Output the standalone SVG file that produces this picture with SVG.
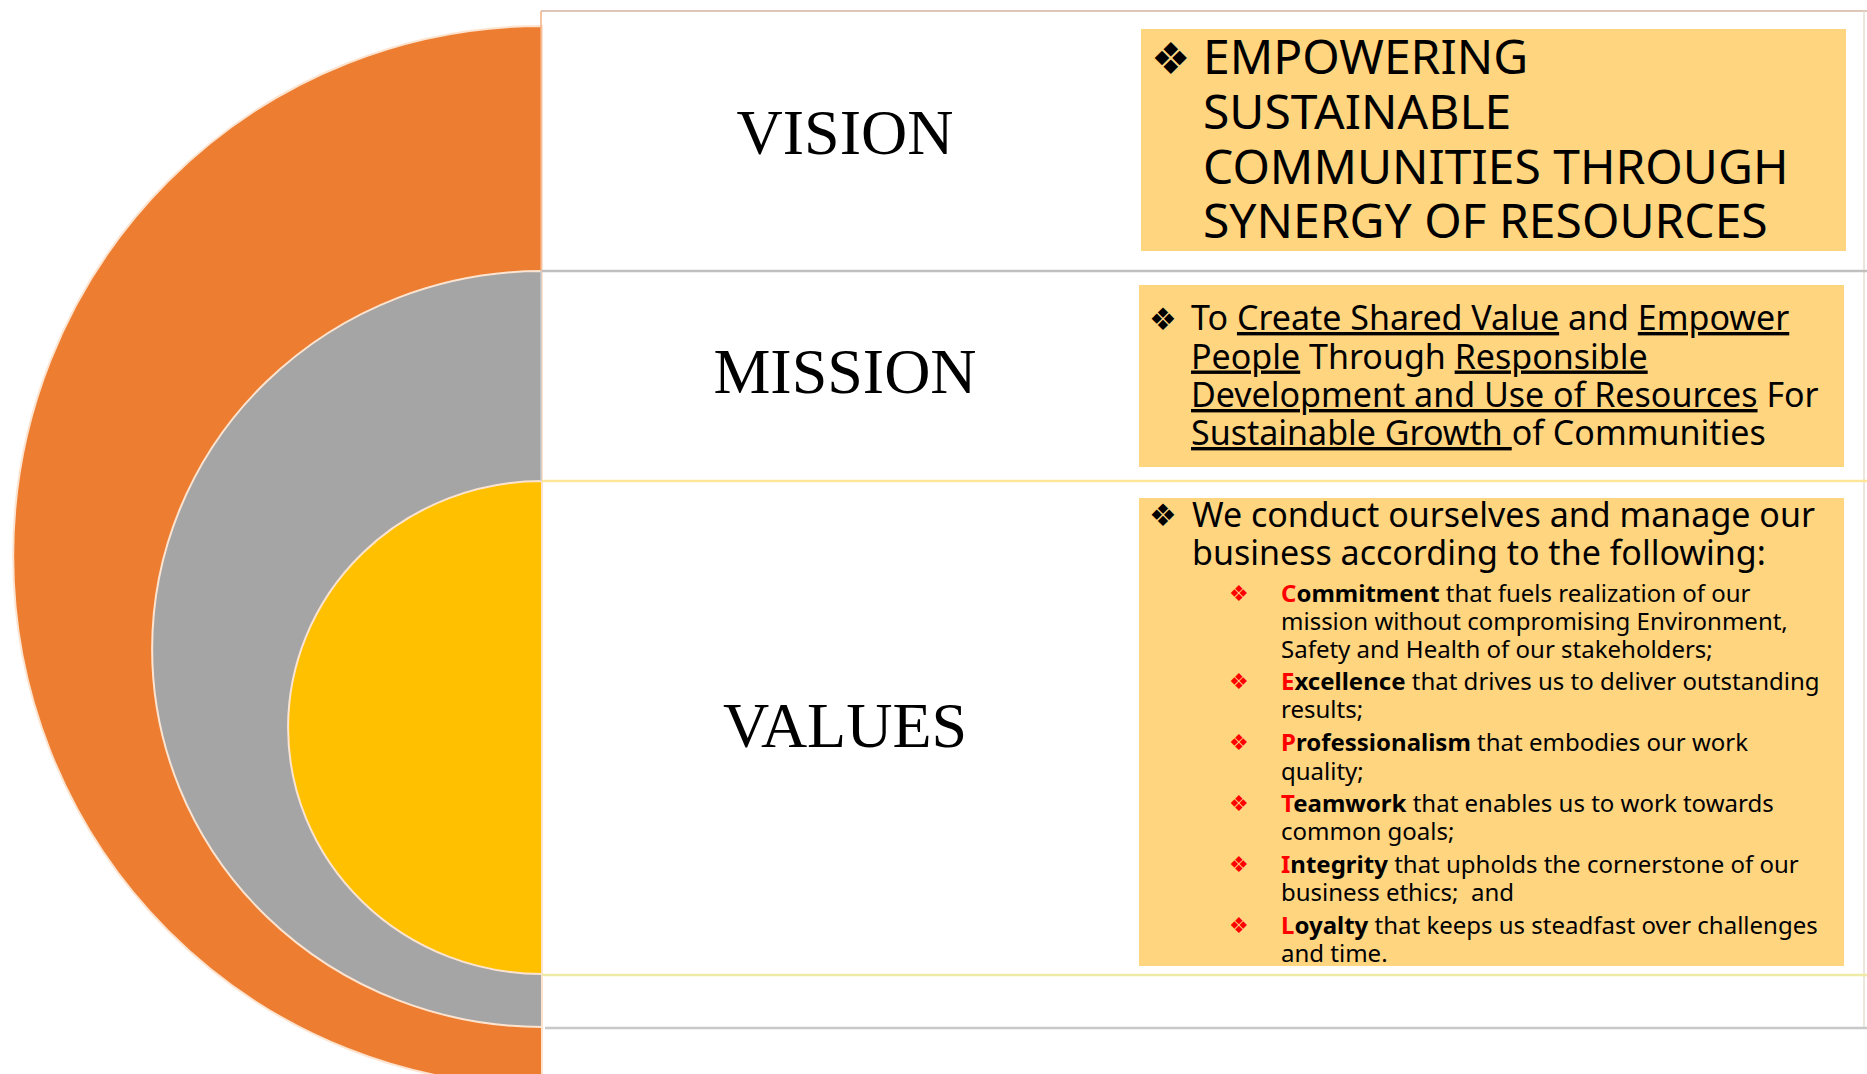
<svg xmlns="http://www.w3.org/2000/svg" width="1867" height="1074" viewBox="0 0 1867 1074">
<style>
.lbl{font-family:"Liberation Serif","Times New Roman",serif;font-size:64px;fill:#000;text-anchor:middle}
.txt{font-family:"Noto Sans","DejaVu Sans",sans-serif;fill:#000}
.vis{font-size:48px}
.main{font-size:34px}
.sub{font-size:24px}
.blt{font-family:"DejaVu Sans",sans-serif;fill:#000}
.red{fill:#FF0000}
.u{text-decoration:underline}
.b{font-weight:bold}
.box{fill:#FFD580}
.ring{stroke:#FCE4D0;stroke-width:2}
</style>
<rect width="1867" height="1074" fill="#FFFFFF"/>
<g id="rings">
<path class="ring" d="M542,26 A529,530 0 0 0 542,1086 Z" fill="#ED7D31"/>
<path class="ring" d="M542,271 A390,378 0 0 0 542,1027 Z" fill="#A5A5A5"/>
<path class="ring" d="M542,481 A254,246.5 0 0 0 542,974 Z" fill="#FFC000"/>
</g>
<g id="grid" fill="none">
<line x1="541" y1="11" x2="1867" y2="11" stroke="#DCC7B9" stroke-width="2"/>
<line x1="541" y1="11" x2="541" y2="271" stroke="#F4B183" stroke-width="1.5"/>
<line x1="541" y1="271" x2="541" y2="481" stroke="#C8C8C8" stroke-width="1.5"/>
<line x1="1864" y1="11" x2="1864" y2="1028" stroke="#E6DED2" stroke-width="1.5"/>
<line x1="542" y1="271" x2="1867" y2="271" stroke="#C0C0C0" stroke-width="2.5"/>
<line x1="542" y1="481" x2="1867" y2="481" stroke="#FFE699" stroke-width="2.5"/>
<line x1="542" y1="975" x2="1867" y2="975" stroke="#EFEBA6" stroke-width="2.5"/>
<line x1="545" y1="1028" x2="1867" y2="1028" stroke="#C8C8C8" stroke-width="2.5"/>
</g>
<g id="vision">
<text class="lbl" x="845" y="154">VISION</text>
<rect class="box" x="1141" y="29" width="705" height="222"/>
<text class="blt" x="1151" y="74" font-size="44">❖</text>
<text class="txt vis" x="1203" y="74">EMPOWERING</text>
<text class="txt vis" x="1203" y="129">SUSTAINABLE</text>
<text class="txt vis" x="1203" y="184">COMMUNITIES THROUGH</text>
<text class="txt vis" x="1203" y="238">SYNERGY OF RESOURCES</text>
</g>
<g id="mission">
<text class="lbl" x="845" y="393">MISSION</text>
<rect class="box" x="1139" y="285" width="705" height="182"/>
<text class="blt" x="1149" y="330" font-size="31">❖</text>
<text class="txt main" x="1191" y="330">To <tspan class="u">Create Shared Value</tspan> and <tspan class="u">Empower</tspan></text>
<text class="txt main" x="1191" y="368.5"><tspan class="u">People</tspan> Through <tspan class="u">Responsible</tspan></text>
<text class="txt main" x="1191" y="407"><tspan class="u">Development and Use of Resources</tspan> For</text>
<text class="txt main" x="1191" y="445" xml:space="preserve"><tspan class="u">Sustainable Growth </tspan>of Communities</text>
</g>
<g id="values">
<text class="lbl" x="845" y="747">VALUES</text>
<rect class="box" x="1139" y="498" width="705" height="468"/>
<text class="blt" x="1149" y="526" font-size="31">❖</text>
<text class="txt main" x="1192" y="527">We conduct ourselves and manage our</text>
<text class="txt main" x="1192" y="565">business according to the following:</text>
<g class="sub">
<text class="blt red" x="1229" y="601" font-size="22">❖</text>
<text class="txt sub" x="1281" y="602"><tspan class="b"><tspan class="red">C</tspan>ommitment</tspan> that fuels realization of our</text>
<text class="txt sub" x="1281" y="630">mission without compromising Environment,</text>
<text class="txt sub" x="1281" y="658">Safety and Health of our stakeholders;</text>
<text class="blt red" x="1229" y="689" font-size="22">❖</text>
<text class="txt sub" x="1281" y="690"><tspan class="b"><tspan class="red">E</tspan>xcellence</tspan> that drives us to deliver outstanding</text>
<text class="txt sub" x="1281" y="718">results;</text>
<text class="blt red" x="1229" y="750" font-size="22">❖</text>
<text class="txt sub" x="1281" y="751"><tspan class="b"><tspan class="red">P</tspan>rofessionalism</tspan> that embodies our work</text>
<text class="txt sub" x="1281" y="780">quality;</text>
<text class="blt red" x="1229" y="811" font-size="22">❖</text>
<text class="txt sub" x="1281" y="812"><tspan class="b"><tspan class="red">T</tspan>eamwork</tspan> that enables us to work towards</text>
<text class="txt sub" x="1281" y="840">common goals;</text>
<text class="blt red" x="1229" y="872" font-size="22">❖</text>
<text class="txt sub" x="1281" y="873"><tspan class="b"><tspan class="red">I</tspan>ntegrity</tspan> that upholds the cornerstone of our</text>
<text class="txt sub" x="1281" y="901" xml:space="preserve">business ethics;  and</text>
<text class="blt red" x="1229" y="933" font-size="22">❖</text>
<text class="txt sub" x="1281" y="934"><tspan class="b"><tspan class="red">L</tspan>oyalty</tspan> that keeps us steadfast over challenges</text>
<text class="txt sub" x="1281" y="962">and time.</text>
</g>
</g>
</svg>
